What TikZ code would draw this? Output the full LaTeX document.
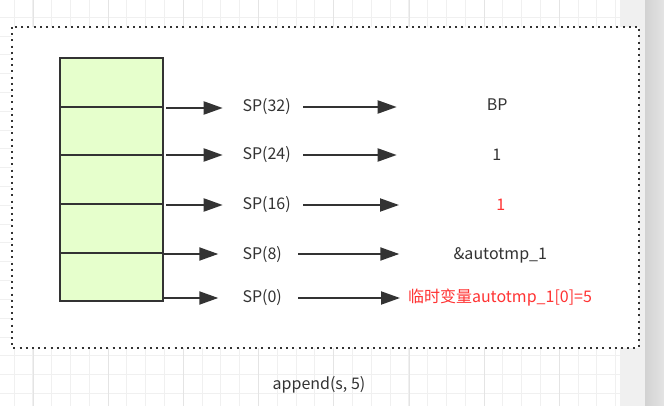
\documentclass[tikz,border=0pt]{standalone}
\usepackage{fontspec}
\setmainfont{Noto Sans CJK SC}
\usetikzlibrary{arrows.meta}
\definecolor{txt}{HTML}{333333}
\definecolor{redtxt}{HTML}{FF3333}
\definecolor{cellfill}{HTML}{E6FFCC}
\definecolor{gridminor}{HTML}{F0F0F0}
\definecolor{gridmajor}{HTML}{E4E4E4}
\definecolor{strip}{HTML}{F0F0F0}
\definecolor{shadeA}{HTML}{D2D2D2}
\definecolor{shadeB}{HTML}{E4E4E4}
\tikzset{
  cellbox/.style={draw=txt, line width=2pt, fill=cellfill, minimum width=103pt, inner sep=0pt, anchor=north west},
  lbl/.style={text=txt, font=\fontsize{16}{18}\selectfont, inner sep=0pt},
  redlbl/.style={text=redtxt, font=\fontsize{16}{18}\selectfont, inner sep=0pt},
  conn/.style={draw=txt, line width=2pt, -{Triangle[length=19pt,width=13pt]}},
}
\begin{document}
\begin{tikzpicture}[x=1pt,y=-1pt]
\useasboundingbox (0,0) rectangle (664,406);
% background and grid
\fill[white] (0,0) rectangle (664,406);
\foreach \i in {0,...,32} {
  \pgfmathsetmacro{\xx}{14+18.8*\i}
  \draw[gridminor, line width=0.8pt] (\xx,0) -- (\xx,406);
}
\foreach \i in {0,...,21} {
  \pgfmathsetmacro{\yy}{17.3+18.8*\i}
  \draw[gridminor, line width=0.8pt] (0,\yy) -- (620,\yy);
}
\foreach \i in {0,...,7} {
  \pgfmathsetmacro{\xx}{33+75.2*\i}
  \draw[gridmajor, line width=0.8pt] (\xx,0) -- (\xx,406);
}
\fill[strip] (620,0) rectangle (645,406);
\shade[left color=shadeA, right color=shadeB] (645,0) rectangle (664,406);
% frame
\draw[txt, line width=2pt, fill=white, dash pattern=on 2pt off 4.2pt] (12,27) rectangle (639,348);
% stack
\node[cellbox, minimum height=49pt] (c1) at (59,57) {};
\node[cellbox, minimum height=48pt] (c2) at (59,106) {};
\node[cellbox, minimum height=49pt] (c3) at (59,154) {};
\node[cellbox, minimum height=49pt] (c4) at (59,203) {};
\node[cellbox, minimum height=48pt] (c5) at (59,252) {};
% labels
\node[lbl, anchor=west] (sp32) at (242.3,107) {SP(32)};
\node[lbl, anchor=west] (sp24) at (242.3,155) {SP(24)};
\node[lbl, anchor=west] (sp16) at (242.3,205) {SP(16)};
\node[lbl, anchor=west] (sp8) at (242.3,255) {SP(8)};
\node[lbl, anchor=west] (sp0) at (242.3,297.5) {SP(0)};
% values
\node[lbl] (v1) at (497.3,104.5) {BP};
\node[lbl] (v2) at (496.7,155) {1};
\node[redlbl] (v3) at (500.7,205) {1};
\node[lbl] (v4) at (500.3,255.5) {\&autotmp\_1};
\node[redlbl] (v5) at (500,297.5) {临时变量autotmp\_1[0]=5};
% caption
\node[lbl] (cap) at (319,384.5) {append(s, 5)};
% arrow endpoints
\coordinate (a1s) at (166,108);  \coordinate (a1e) at (222.7,108);
\coordinate (a2s) at (166,155);  \coordinate (a2e) at (222.7,155);
\coordinate (a3s) at (166,205);  \coordinate (a3e) at (222.7,205);
\coordinate (a4s) at (162.7,254);\coordinate (a4e) at (218.3,254);
\coordinate (a5s) at (162.7,298);\coordinate (a5e) at (218.3,298);
\coordinate (b1s) at (303.3,107);\coordinate (b1e) at (396.7,107);
\coordinate (b2s) at (303.3,155);\coordinate (b2e) at (396.7,155);
\coordinate (b3s) at (303.3,205);\coordinate (b3e) at (399,205);
\coordinate (b4s) at (298.3,254);\coordinate (b4e) at (399.3,254);
\coordinate (b5s) at (298.3,298);\coordinate (b5e) at (400,298);
\foreach \p in {a1,a2,a3,a4,a5,b1,b2,b3,b4,b5} {
  \draw[conn] (\p s) -- (\p e);
}
\end{tikzpicture}
\end{document}
